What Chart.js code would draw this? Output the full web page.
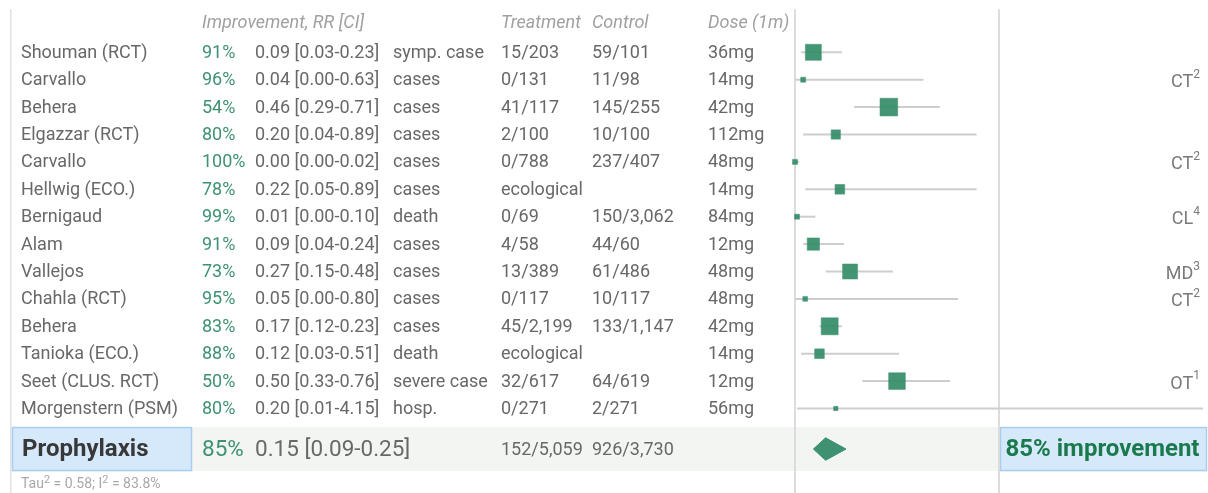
<!DOCTYPE html>
<html lang="en">
<head>
    <meta charset="UTF-8">
    <title>Prophylaxis forest plot</title>
    <script src="https://cdn.jsdelivr.net/npm/chart.js"></script>
    <style>
        body {
            margin: 0;
            background: #fff;
        }
        #chart-container {
            width: 1208px;
            height: 493px;
            position: relative;
        }
    </style>
</head>
<body>
    <div id="chart-container">
        <canvas id="forest"></canvas>
    </div>
    <script>
        // study rows, top to bottom
        const studies = ['Shouman (RCT)', 'Carvallo', 'Behera', 'Elgazzar (RCT)', 'Carvallo', 'Hellwig (ECO.)',
            'Bernigaud', 'Alam', 'Vallejos', 'Chahla (RCT)', 'Behera', 'Tanioka (ECO.)', 'Seet (CLUS. RCT)', 'Morgenstern (PSM)'];
        const improvement = [91, 96, 54, 80, 100, 78, 99, 91, 73, 95, 83, 88, 50, 80];
        const rr     = [0.09, 0.04, 0.46, 0.20, 0.00, 0.22, 0.01, 0.09, 0.27, 0.05, 0.17, 0.12, 0.50, 0.20];
        const ciLow  = [0.03, 0.00, 0.29, 0.04, 0.00, 0.05, 0.00, 0.04, 0.15, 0.00, 0.12, 0.03, 0.33, 0.01];
        const ciHigh = [0.23, 0.63, 0.71, 0.89, 0.02, 0.89, 0.10, 0.24, 0.48, 0.80, 0.23, 0.51, 0.76, 4.15];
        const outcome = ['symp. case', 'cases', 'cases', 'cases', 'cases', 'cases', 'death', 'cases', 'cases',
            'cases', 'cases', 'death', 'severe case', 'hosp.'];
        const treatment = ['15/203', '0/131', '41/117', '2/100', '0/788', 'ecological', '0/69', '4/58', '13/389',
            '0/117', '45/2,199', 'ecological', '32/617', '0/271'];
        const control = ['59/101', '11/98', '145/255', '10/100', '237/407', '', '150/3,062', '44/60', '61/486',
            '10/117', '133/1,147', '', '64/619', '2/271'];
        const dose = ['36mg', '14mg', '42mg', '112mg', '48mg', '14mg', '84mg', '12mg', '48mg', '48mg', '42mg',
            '14mg', '12mg', '56mg'];
        const notes = ['', 'CT^2', '', '', 'CT^2', '', 'CL^4', '', 'MD^3', 'CT^2', '', '', 'OT^1', ''];
        // study weights (relative, drives the square size)
        const weights = [16, 5, 17.7, 9.3, 5, 9.7, 5, 12.3, 15, 4.7, 17, 9.7, 16.7, 4.3];

        // pooled result
        const sumLabel = 'Prophylaxis';
        const sumImprovement = 85;
        const sumRR = 0.15, sumLow = 0.09, sumHigh = 0.25;
        const sumTreatment = '152/5,059', sumControl = '926/3,730';
        const tau2 = 0.58, i2 = 83.8;

        const headers = { improvement: 'Improvement, RR [CI]', treatment: 'Treatment', control: 'Control', dose: 'Dose (1m)' };

        const GREEN = '#3e9271';
        const TEXT = '#686868';
        const headerRow = -1.1;
        const sumRow = studies.length + 0.48;
        const tauRow = studies.length + 1.76;

        const datasets = [];
        // reference lines at RR 0 and RR 1
        [0, 1].forEach(v => datasets.push({
            type: 'line', data: [{ x: v, y: -1.57 }, { x: v, y: 17 }],
            borderColor: '#dcdcdc', borderWidth: 2, pointRadius: 0, clip: 4, order: 3
        }));
        // confidence intervals
        studies.forEach((s, i) => datasets.push({
            type: 'line', data: [{ x: ciLow[i], y: i }, { x: ciHigh[i], y: i }],
            borderColor: '#cdcdcd', borderWidth: 2, pointRadius: 0, clip: 0, order: 2
        }));
        // point estimates
        datasets.push({
            type: 'scatter',
            data: rr.map((v, i) => ({ x: v, y: i })),
            pointStyle: 'rect',
            pointRadius: weights.map(w => w / (2 * Math.SQRT1_2)),
            backgroundColor: 'rgba(52,140,104,0.92)',
            borderColor: 'rgba(62,146,113,0.5)',
            borderWidth: 1,
            clip: 10,
            order: 1
        });
        // pooled diamond
        datasets.push({
            type: 'line',
            data: [{ x: sumLow, y: sumRow }, { x: sumRR, y: sumRow - 0.41 }, { x: sumHigh, y: sumRow },
                   { x: sumRR, y: sumRow + 0.41 }, { x: sumLow, y: sumRow }],
            fill: 'shape', backgroundColor: GREEN, borderColor: GREEN, borderWidth: 1,
            pointRadius: 0, tension: 0, order: 1
        });

        const tablePlugin = {
            id: 'table',
            beforeDatasetsDraw(chart) {
                const c = chart.ctx, x = chart.scales.x, y = chart.scales.y;
                const yc = y.getPixelForValue(sumRow);
                const x1 = x.getPixelForValue(1);
                c.save();
                // left border
                c.fillStyle = '#e2e2e2';
                c.fillRect(10, 9, 1.5, 484);
                // pooled band
                c.fillStyle = '#f3f5f3';
                c.fillRect(12, yc - 22, x1 - 12, 44);
                // boxes
                c.fillStyle = '#d6e9fb';
                c.strokeStyle = '#a9cdef';
                c.lineWidth = 1.5;
                c.fillRect(12, yc - 22, 180, 44);
                c.strokeRect(12.5, yc - 21.5, 179, 43);
                c.fillRect(x1 + 1, yc - 22, 1206 - x1, 44);
                c.strokeRect(x1 + 1.5, yc - 21.5, 1205 - x1, 43);
                c.restore();
            },
            afterDatasetsDraw(chart) {
                const c = chart.ctx, x = chart.scales.x, y = chart.scales.y;
                c.save();
                c.textBaseline = 'middle';
                c.textAlign = 'left';

                // header
                const hy = y.getPixelForValue(headerRow) + 1;
                c.font = 'italic 18px Roboto';
                c.fillStyle = '#a0a0a0';
                c.fillText(headers.improvement, 202, hy);
                c.fillText(headers.treatment, 501, hy);
                c.fillText(headers.control, 592, hy);
                c.fillText(headers.dose, 708, hy);

                studies.forEach((s, i) => {
                    const py = y.getPixelForValue(i) + 1;
                    c.font = '18px Roboto';
                    c.fillStyle = TEXT;
                    c.fillText(s, 21, py);
                    c.fillStyle = GREEN;
                    c.fillText(improvement[i] + '%', 202, py);
                    c.fillStyle = TEXT;
                    c.fillText(rr[i].toFixed(2) + ' [' + ciLow[i].toFixed(2) + '-' + ciHigh[i].toFixed(2) + ']', 255, py);
                    c.fillText(outcome[i], 393, py);
                    c.fillText(treatment[i], 501, py);
                    c.fillText(control[i], 592, py);
                    c.fillText(dose[i], 708, py);
                    if (notes[i]) {
                        const [main, sup] = notes[i].split('^');
                        c.textAlign = 'right';
                        c.font = '12px Roboto';
                        c.fillStyle = '#7a7a7a';
                        c.fillText(sup, 1200, py - 6);
                        const sw = c.measureText(sup).width;
                        c.font = '18px Roboto';
                        c.fillText(main, 1200 - sw, py + 2);
                        c.textAlign = 'left';
                    }
                });

                // pooled row
                const sy = y.getPixelForValue(sumRow) + 1;
                c.font = 'bold 24px Roboto';
                c.fillStyle = '#383838';
                c.fillText(sumLabel, 22, sy);
                c.font = '22.5px Roboto';
                c.fillStyle = GREEN;
                c.fillText(sumImprovement + '%', 202, sy);
                c.fillStyle = TEXT;
                c.fillText(sumRR.toFixed(2) + ' [' + sumLow.toFixed(2) + '-' + sumHigh.toFixed(2) + ']', 255, sy);
                c.font = '18px Roboto';
                c.fillText(sumTreatment, 501, sy);
                c.fillText(sumControl, 592, sy);
                c.font = 'bold 24px Roboto';
                c.fillStyle = '#1b7a4d';
                c.textAlign = 'center';
                c.fillText(sumImprovement + '% improvement', (x.getPixelForValue(1) + 1206) / 2, sy);

                // heterogeneity
                const ty = y.getPixelForValue(tauRow);
                c.textAlign = 'left';
                c.fillStyle = '#a8a8a8';
                let tx = 21;
                const seg = (t, sup) => {
                    c.font = sup ? '11px Roboto' : '14px Roboto';
                    c.fillText(t, tx, sup ? ty - 4 : ty);
                    tx += c.measureText(t).width;
                };
                seg('Tau'); seg('2', true); seg(' = ' + tau2.toFixed(2) + '; I'); seg('2', true); seg(' = ' + i2 + '%');
                c.restore();
            }
        };

        new Chart(document.getElementById('forest'), {
            type: 'scatter',
            data: { datasets },
            options: {
                responsive: true,
                maintainAspectRatio: false,
                animation: false,
                layout: { autoPadding: false, padding: { left: 795, right: 5, top: 0, bottom: 0 } },
                scales: {
                    x: { type: 'linear', min: 0, max: 2, display: false },
                    y: { type: 'linear', reverse: true, min: -1.909, max: 16.084, display: false }
                },
                plugins: { legend: { display: false }, tooltip: { enabled: false } }
            },
            plugins: [tablePlugin]
        });
    </script>
</body>
</html>
